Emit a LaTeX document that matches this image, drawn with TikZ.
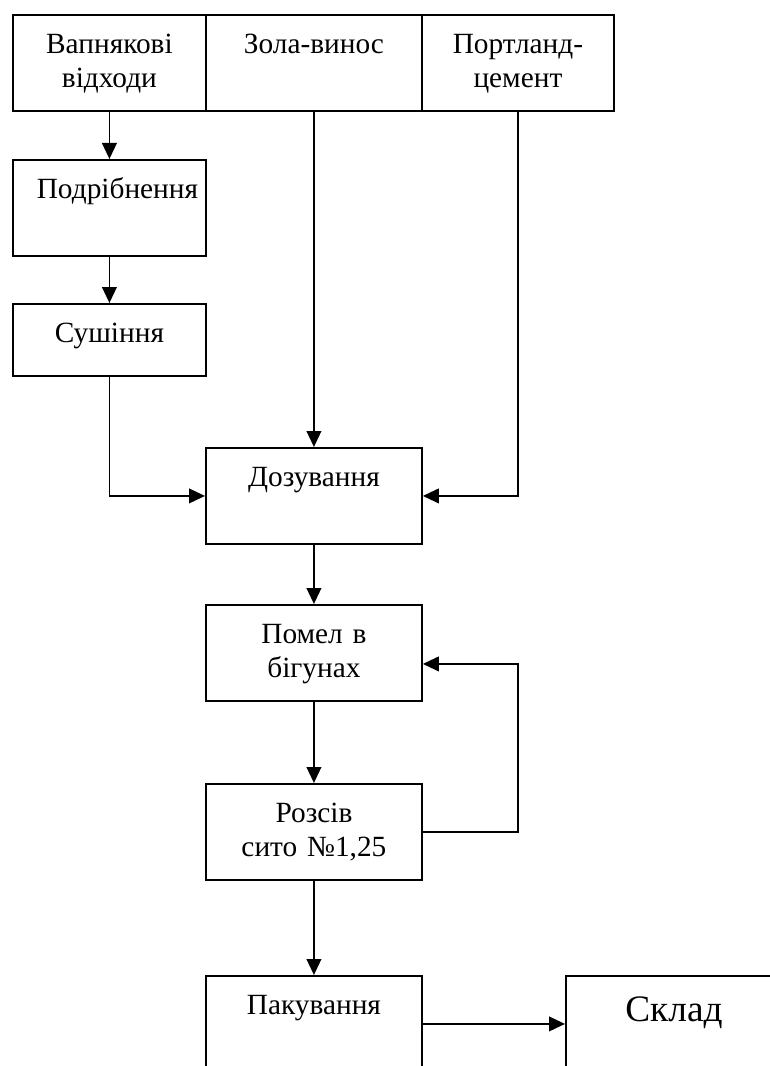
\documentclass[tikz,border=0pt]{standalone}
\usepackage{fontspec}
\setmainfont{Liberation Serif}
\usetikzlibrary{arrows.meta}
\tikzset{
  blok/.style={draw, line width=1.4pt, inner sep=0pt, anchor=north west, align=center,
    text height=28.75pt, text depth=43.25pt, font=\fontsize{22pt}{25.5pt}\selectfont},
  vuzky/.style={text width=144.75pt},
  shyrokyi/.style={text width=162pt},
  arr/.style={line width=1.4pt, -{Triangle[length=12pt,width=11pt]}},
}

\begin{document}
\begin{tikzpicture}[x=0.75pt,y=-0.75pt]
\useasboundingbox (0,0) rectangle (770,1066);
\clip (0,0) rectangle (770,1066);
% sirovyna
\node[blok, vuzky] (vapn) at (12,14) {Вапнякові\\відходи};
\node[blok, shyrokyi] (zola) at (205,14) {Зола-винос};
\node[blok, text width=144pt] (portl) at (421,14) {Портланд-\\цемент};
% pidgotovka
\node[blok, vuzky] (podr) at (12,159) {\hspace*{12pt}Подрібнення};
\node[blok, vuzky, text depth=25.25pt] (sush) at (12,303) {Сушіння};
% osnovna liniya
\node[blok, shyrokyi] (doz) at (205,447) {Дозування};
\node[blok, shyrokyi] (pomel) at (205,604) {Помел в\\бігунах};
\node[blok, shyrokyi] (rozsiv) at (205,783) {Розсів\\сито №1,25};
\node[blok, shyrokyi] (pak) at (205,975) {Пакування};
\node[blok, shyrokyi, font=\fontsize{28pt}{33pt}\selectfont,
  text height=34.5pt, text depth=37.5pt] (sklad) at (565,975) {Склад};
\coordinate (povern) at ([yshift=-8.25pt]pomel.east);

\draw[arr] (vapn.south) -- (podr.north);
\draw[arr] (podr.south) -- (sush.north);
\draw[arr] (zola.south) -- (doz.north);
\draw[arr] (sush.south) |- (doz.west);
\draw[arr] (portl.south) |- (doz.east);
\draw[arr] (doz.south) -- (pomel.north);
\draw[arr] (pomel.south) -- (rozsiv.north);
\draw[arr] (rozsiv.east) -- (rozsiv.east -| portl.south) |- (povern);
\draw[arr] (rozsiv.south) -- (pak.north);
\draw[arr] (pak.east) -- (sklad.west);
\end{tikzpicture}
\end{document}
